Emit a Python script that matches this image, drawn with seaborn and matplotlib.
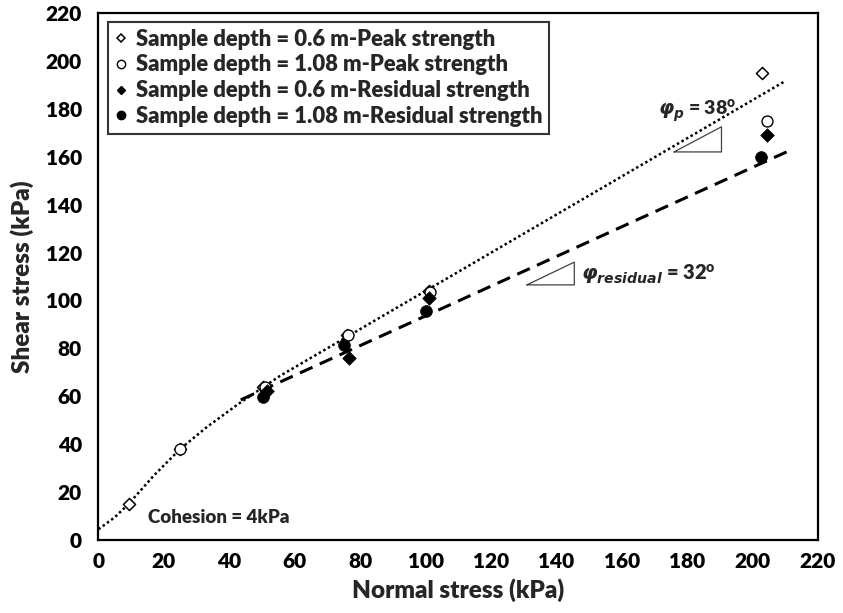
import matplotlib
matplotlib.use("Agg")
import matplotlib.pyplot as plt
import seaborn as sns
import pandas as pd
from matplotlib.lines import Line2D

# ---- data ----
peak_06_x = [9.3, 25, 50.3, 76, 101, 203]
peak_06_y = [15, 38, 64, 85.5, 104, 195]
peak_108_x = [25, 51, 76.3, 101.4, 204.5]
peak_108_y = [38, 64, 85.5, 103.5, 175]
res_06_x = [51.5, 76.6, 101, 204.5]
res_06_y = [62, 76, 101, 169]
res_108_x = [50.3, 75, 100, 202.6]
res_108_y = [59.7, 81.5, 95.6, 160]

peak_fit_x = [0, 5, 9.3, 17, 25, 33, 43, 55.5, 210]
peak_fit_y = [4.5, 9.5, 15.2, 27, 38, 47, 57, 68.5, 191.6]
res_fit_x = [43.5, 212]
res_fit_y = [58.5, 163]

tri_p_x = [176, 190.5, 190.5, 176]
tri_p_y = [162, 162, 172.5, 162]
tri_r_x = [131, 145.5, 145.5, 131]
tri_r_y = [106.5, 106.5, 116, 106.5]

labels = ["Sample depth = 0.6 m-Peak strength",
          "Sample depth = 1.08 m-Peak strength",
          "Sample depth = 0.6 m-Residual strength",
          "Sample depth = 1.08 m-Residual strength"]
ticks = list(range(0, 221, 20))

# ---- style ----
sns.set_style("white")
plt.rcParams["font.family"] = ["Lato", "DejaVu Sans"]
plt.rcParams["font.weight"] = "heavy"
plt.rcParams["mathtext.fontset"] = "custom"
plt.rcParams["mathtext.rm"] = "Lato:heavy"
plt.rcParams["mathtext.bf"] = "Lato:heavy"
plt.rcParams["mathtext.it"] = "DejaVu Sans:italic:bold"

W = "heavy"
fig = plt.figure(figsize=(8.43, 6.13), dpi=100)
ax = fig.add_axes([0.1168, 0.1191, 0.8535, 0.8597])

# fit lines
sns.lineplot(x=peak_fit_x, y=peak_fit_y, ax=ax, color="black", lw=1.8,
             linestyle=(0, (1, 1.1)), sort=False, estimator=None)
sns.lineplot(x=res_fit_x, y=res_fit_y, ax=ax, color="black", lw=2.2,
             linestyle=(0, (4.5, 2.6)), sort=False, estimator=None)

# data points
series = [
    (peak_06_x, peak_06_y, "D", "white", 38, 1.1),
    (peak_108_x, peak_108_y, "o", "white", 62, 1.0),
    (res_06_x, res_06_y, "D", "black", 48, 0.5),
    (res_108_x, res_108_y, "o", "black", 72, 0.5),
]
for (xs, ys, m, fc, s, lw) in series:
    df = pd.DataFrame({"x": xs, "y": ys})
    sns.scatterplot(data=df, x="x", y="y", ax=ax, marker=m, s=s,
                    facecolor=fc, edgecolor="black", linewidth=lw, zorder=4)

# slope triangles
ax.plot(tri_p_x, tri_p_y, color="#404040", lw=0.9)
ax.plot(tri_r_x, tri_r_y, color="#404040", lw=0.9)

# annotations
ax.text(15, 9.5, "Cohesion = 4kPa", fontsize=13.5, fontweight=W, va="center")
ax.text(171, 179, r"$\varphi_{p}$ = 38$^{\mathrm{o}}$", fontsize=14,
        fontweight=W, va="center")
ax.text(147.5, 111, r"$\varphi_{residual}$ = 32$^{\mathrm{o}}$", fontsize=14.5,
        fontweight=W, va="center")

# axes
ax.set_xlim(0, 220)
ax.set_ylim(0, 220)
ax.set_xticks(ticks)
ax.set_yticks(ticks)
ax.tick_params(direction="out", length=5, width=1.2, labelsize=15,
               colors="black")
ax.tick_params(axis="x", pad=4)
ax.tick_params(axis="y", pad=7)
for t in ax.get_xticklabels() + ax.get_yticklabels():
    t.set_fontweight(W)
for sp in ax.spines.values():
    sp.set_color("black")
    sp.set_linewidth(1.6)
ax.set_xlabel("Normal stress (kPa)", fontsize=17.5, fontweight=W, labelpad=5)
ax.set_ylabel("Shear stress (kPa)", fontsize=17.5, fontweight=W, labelpad=8)

handles = [
    Line2D([], [], ls="none", marker="D", ms=4.5, mfc="white", mec="black", mew=1.1),
    Line2D([], [], ls="none", marker="o", ms=6, mfc="white", mec="black", mew=1.0),
    Line2D([], [], ls="none", marker="D", ms=4.5, mfc="black", mec="black"),
    Line2D([], [], ls="none", marker="o", ms=6, mfc="black", mec="black"),
]
leg = ax.legend(handles, labels, loc="upper left", bbox_to_anchor=(0.013, 0.983),
                borderaxespad=0, frameon=True, fancybox=False,
                handlelength=0.6, handletextpad=0.4, labelspacing=0.22,
                borderpad=0.3, prop={"weight": W, "size": 15.8})
leg.get_frame().set_edgecolor("black")
leg.get_frame().set_linewidth(1.5)

fig.savefig("out.png", dpi=100)
